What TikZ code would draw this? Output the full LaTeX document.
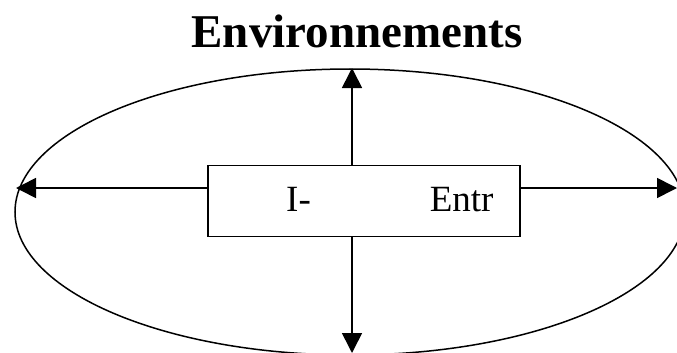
\documentclass[tikz,border=0pt]{standalone}
\usepackage{fontspec}
\setmainfont{Liberation Serif}
\usetikzlibrary{arrows.meta}

\begin{document}
\begin{tikzpicture}[x=1pt,y=-1pt]
\tikzset{fleche/.style={line width=1.6pt,-{Triangle[length=20pt,width=20pt]}}}
\tikzset{boite/.style={draw,line width=1.5pt,minimum width=312pt,minimum height=71pt,inner sep=0pt}}
\tikzset{texte/.style={font=\fontsize{37}{40}\selectfont,inner sep=0pt,anchor=base west}}

\useasboundingbox (0,0) rectangle (677,353);

\node[font=\fontsize{47}{50}\selectfont\bfseries,inner sep=0pt,anchor=base] (titre) at (357,48) {Environnements};

\draw[line width=1.5pt] (350,212) ellipse [x radius=335pt, y radius=143pt];

\node[boite] (sys) at (364,201) {};
\node[texte] (lbl) at (286,211) {I-\hspace{119pt}Entr};

\coordinate (haut) at (352,68);
\coordinate (bas) at (352,353);
\coordinate (gauche) at (16,188);
\coordinate (droite) at (677,188);

\draw[fleche] (sys.north -| haut) -- (haut);
\draw[fleche] (sys.south -| bas) -- (bas);
\draw[fleche] (sys.west |- gauche) -- (gauche);
\draw[fleche] (sys.east |- droite) -- (droite);

\end{tikzpicture}
\end{document}
